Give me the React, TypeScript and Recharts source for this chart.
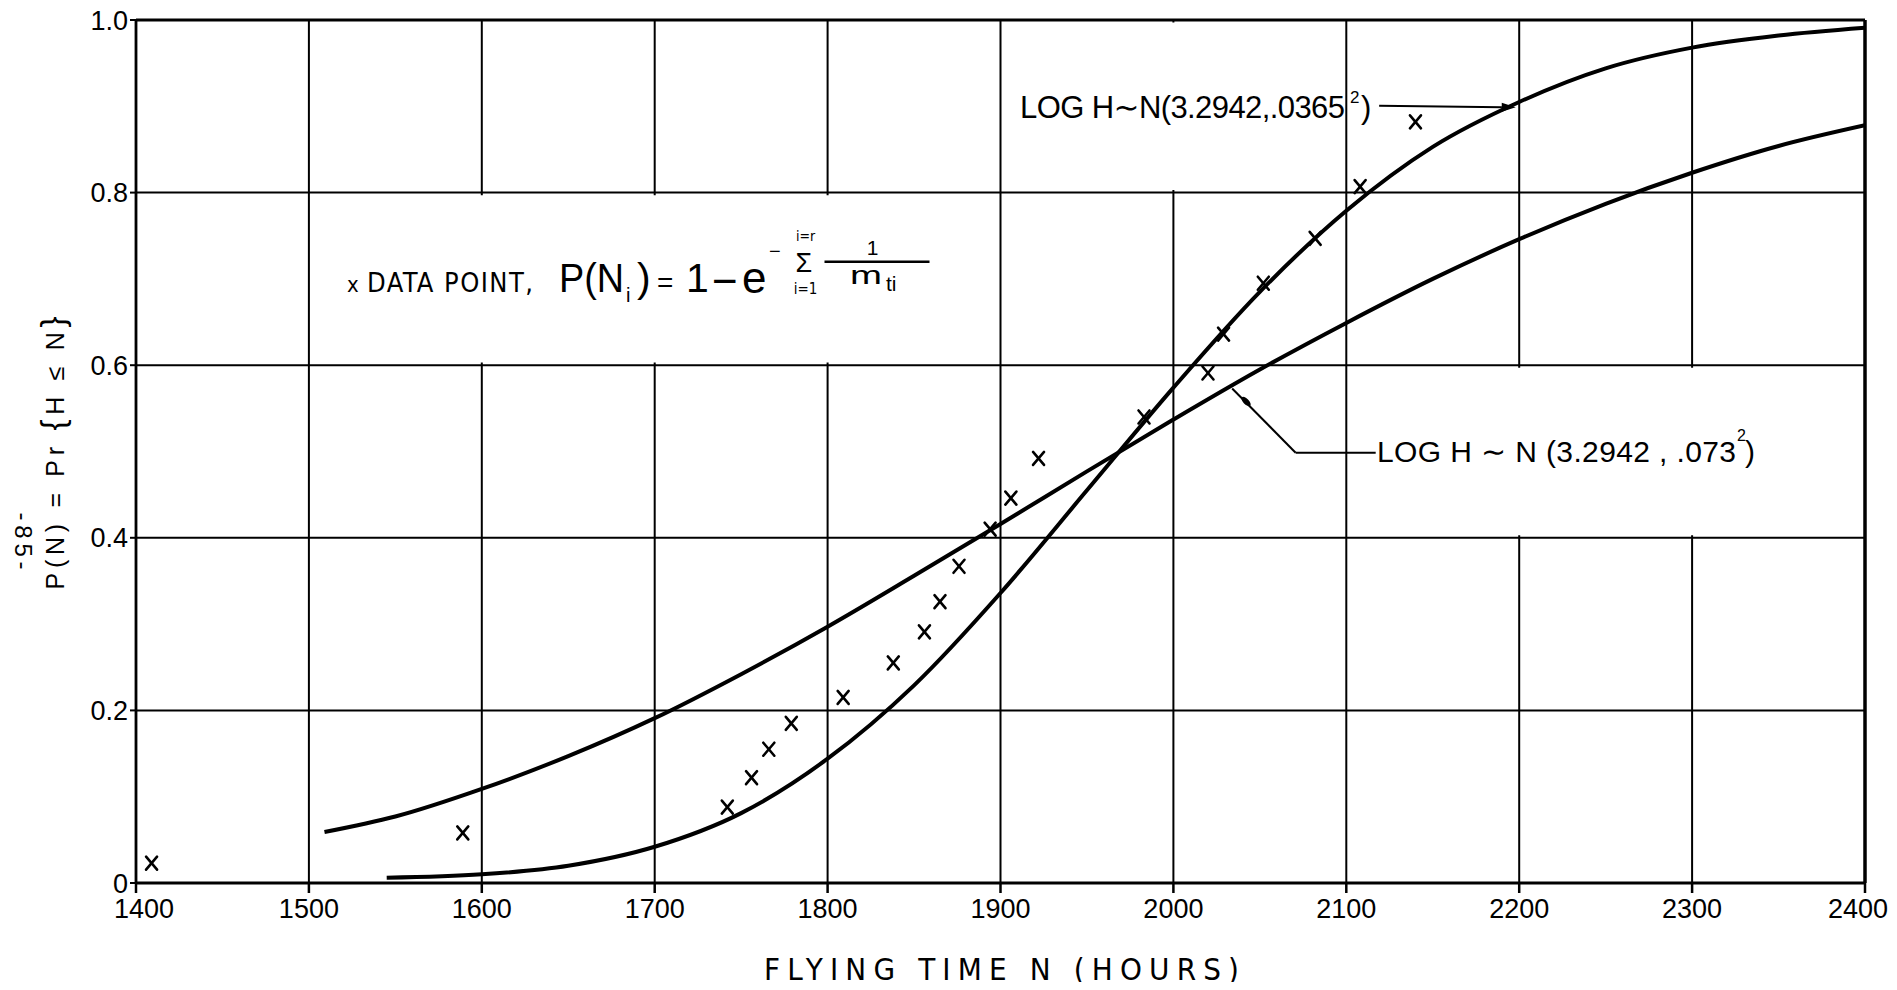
import React from "react";
import {
  ComposedChart,
  Line,
  Scatter,
  XAxis,
  YAxis,
  CartesianGrid,
  ReferenceLine,
  ReferenceArea,
  ReferenceDot,
} from "recharts";

// Axis ticks
const xTicks = [1400, 1500, 1600, 1700, 1800, 1900, 2000, 2100, 2200, 2300, 2400];
const yTicks = [0, 0.2, 0.4, 0.6, 0.8, 1.0];

// LOG H ~ N(3.2942, .0365^2) — the steep curve
const narrowHours = [1545, 1600, 1650, 1700, 1750, 1800, 1850, 1900, 1950, 2000, 2050, 2100, 2150, 2200, 2250, 2300, 2350, 2400];
const narrowProb = [0.006, 0.01, 0.02, 0.042, 0.081, 0.144, 0.229, 0.336, 0.455, 0.574, 0.685, 0.779, 0.853, 0.905, 0.944, 0.968, 0.982, 0.991];

// LOG H ~ N(3.2942, .073^2) — the flatter curve
const wideHours = [1509, 1550, 1600, 1650, 1700, 1750, 1800, 1850, 1900, 1950, 2000, 2050, 2100, 2150, 2200, 2250, 2300, 2350, 2400];
const wideProb = [0.059, 0.077, 0.109, 0.147, 0.191, 0.242, 0.297, 0.356, 0.416, 0.477, 0.537, 0.595, 0.649, 0.7, 0.746, 0.787, 0.823, 0.854, 0.878];

// Observed data points P(N_i)
const pointHours = [1409, 1589, 1742, 1756, 1766, 1779, 1809, 1838, 1856, 1865, 1876, 1894, 1906, 1922, 1983, 2020, 2029, 2052, 2082, 2108, 2140];
const pointProb = [0.023, 0.058, 0.088, 0.122, 0.155, 0.185, 0.215, 0.255, 0.291, 0.326, 0.367, 0.41, 0.446, 0.492, 0.54, 0.591, 0.636, 0.695, 0.747, 0.807, 0.882];

const narrowData = narrowHours.map((n, i) => ({ n, p: narrowProb[i] }));
const wideData = wideHours.map((n, i) => ({ n, p: wideProb[i] }));
const pointData = pointHours.map((n, i) => ({ n, p: pointProb[i] }));

const W = 1897;
const H = 990;

const INK = "#000";
const SANS = "'Liberation Sans', 'DejaVu Sans', sans-serif";
const NARROW = "'DejaVu Sans', 'Liberation Sans', sans-serif";
const narrowStyle = { fontStretch: "condensed" as const };

const Cross = (props: any) => {
  const { cx, cy } = props;
  if (cx == null || cy == null) return null;
  const w = 5.5;
  const h = 6.5;
  return (
    <g stroke={INK} strokeWidth={2.6} strokeLinecap="round">
      <line x1={cx - w} y1={cy - h} x2={cx + w} y2={cy + h} />
      <line x1={cx - w} y1={cy + h} x2={cx + w} y2={cy - h} />
    </g>
  );
};

const ArrowHead = (props: any) => {
  const { cx, cy } = props;
  if (cx == null || cy == null) return null;
  return <path d={`M${cx},${cy} L${cx - 14},${cy - 4.5} L${cx - 14},${cy + 4.5} Z`} fill={INK} />;
};

const Teardrop = (props: any) => {
  const { cx, cy } = props;
  if (cx == null || cy == null) return null;
  return <ellipse cx={cx} cy={cy} rx={6} ry={2.8} fill={INK} transform={`rotate(45 ${cx} ${cy})`} />;
};

const tickStyle = { fontSize: 27, fontFamily: SANS, fill: INK };

// Hour labels: the last one sits inside the frame's right edge
const HourTick = (props: any) => {
  const { x, y, payload } = props;
  const v = payload?.value;
  const last = v === xTicks[xTicks.length - 1];
  const first = v === xTicks[0];
  return (
    <text
      x={last ? x + 23 : first ? x + 8 : x}
      y={y + 1}
      dy="0.71em"
      textAnchor={last ? "end" : "middle"}
      fontSize={tickStyle.fontSize}
      fontFamily={tickStyle.fontFamily}
      fill={INK}
    >
      {v}
    </text>
  );
};

export default function App() {
  return (
    <div
      style={{
        position: "relative",
        width: W,
        height: H,
        marginTop: -8,
        marginBottom: -8,
        marginLeft: -8,
      }}
    >
      <ComposedChart
        width={W}
        height={H}
        margin={{ top: 20, right: 32, left: 76, bottom: 57 }}
      >
        <CartesianGrid stroke={INK} strokeWidth={2} />
        <XAxis
          type="number"
          dataKey="n"
          domain={[1400, 2400]}
          ticks={xTicks}
          allowDataOverflow
          height={50}
          tickSize={10}
          tickMargin={5}
          axisLine={{ stroke: INK, strokeWidth: 3 }}
          tickLine={{ stroke: INK, strokeWidth: 2.5 }}
          tick={<HourTick />}
          interval={0}
        />
        <YAxis
          type="number"
          dataKey="p"
          domain={[0, 1]}
          ticks={yTicks}
          allowDataOverflow
          width={60}
          tickSize={6}
          tickMargin={2}
          axisLine={{ stroke: INK, strokeWidth: 2.8 }}
          tickLine={{ stroke: INK, strokeWidth: 2 }}
          tick={tickStyle}
          interval={0}
          tickFormatter={(v: number) => (v === 0 ? "0" : v.toFixed(1))}
        />

        {/* blank panels behind the lettering */}
        <ReferenceArea x1={1502} x2={1898} y1={0.603} y2={0.797} fill="#fff" fillOpacity={1} stroke="none" />
        <ReferenceArea x1={1902} x2={2098} y1={0.803} y2={0.997} fill="#fff" fillOpacity={1} stroke="none" />
        <ReferenceArea x1={2102} x2={2398} y1={0.403} y2={0.597} fill="#fff" fillOpacity={1} stroke="none" />

        {/* frame */}
        <ReferenceLine y={1} stroke={INK} strokeWidth={3} />
        <ReferenceLine x={2400} stroke={INK} strokeWidth={3.5} />

        {/* leaders to the curve labels */}
        <ReferenceLine segment={[{ x: 2119, y: 0.9005 }, { x: 2190, y: 0.899 }]} stroke={INK} strokeWidth={2} />
        <ReferenceLine segment={[{ x: 2034, y: 0.573 }, { x: 2070.7, y: 0.4986 }]} stroke={INK} strokeWidth={2} />
        <ReferenceLine segment={[{ x: 2070.7, y: 0.4986 }, { x: 2117, y: 0.4986 }]} stroke={INK} strokeWidth={2} />

        <Line
          data={wideData}
          dataKey="p"
          type="monotone"
          stroke={INK}
          strokeWidth={4}
          dot={false}
          activeDot={false}
          isAnimationActive={false}
        />
        <Line
          data={narrowData}
          dataKey="p"
          type="monotone"
          stroke={INK}
          strokeWidth={4}
          dot={false}
          activeDot={false}
          isAnimationActive={false}
        />
        <Scatter data={pointData} dataKey="p" shape={Cross} isAnimationActive={false} />

        <ReferenceDot x={2198} y={0.899} r={4} shape={ArrowHead} />
        <ReferenceDot x={2042} y={0.558} r={4} shape={Teardrop} />
      </ComposedChart>

      <svg
        width={W}
        height={H}
        viewBox={`0 0 ${W} ${H}`}
        style={{ position: "absolute", left: 0, top: 0, pointerEvents: "none" }}
      >
        {/* axis titles */}
        <text x={764} y={980} fontFamily={NARROW} style={narrowStyle} fontSize={31} fill={INK} textLength={475} lengthAdjust="spacing">
          FLYING TIME N (HOURS)
        </text>
        <text
          transform="translate(64 453) rotate(-90)"
          textAnchor="middle"
          fontFamily={SANS}
          fontSize={25}
          fill={INK}
          textLength={273}
          lengthAdjust="spacing"
        >
          P(N) = Pr <tspan fontSize={33}>{"{"}</tspan>H ≤ N<tspan fontSize={33}>{"}"}</tspan>
        </text>
        <text
          transform="translate(15 541) rotate(90)"
          textAnchor="middle"
          fontFamily={SANS}
          fontSize={24}
          fill={INK}
          textLength={57}
          lengthAdjust="spacing"
        >
          -85-
        </text>

        {/* legend formula */}
        <text x={347} y={291.7} fontFamily={NARROW} style={narrowStyle} fontSize={22} fill={INK}>x</text>
        <text x={367} y={291.7} fontFamily={NARROW} style={narrowStyle} fontSize={27} fill={INK} textLength={166} lengthAdjust="spacing">
          DATA  POINT,
        </text>
        <text x={559} y={291.7} fontFamily={SANS} fontSize={41} fill={INK} textLength={65} lengthAdjust="spacingAndGlyphs">
          P(N
        </text>
        <text x={626} y={301.7} fontFamily={SANS} fontSize={20} fill={INK}>i</text>
        <text x={637} y={291.7} fontFamily={SANS} fontSize={41} fill={INK}>)</text>
        <text x={657} y={292} fontFamily={SANS} fontSize={28} fill={INK}>=</text>
        <text x={686} y={291.7} fontFamily={SANS} fontSize={41} fill={INK}>1</text>
        <text x={712} y={296} fontFamily={SANS} fontSize={44} fill={INK}>−</text>
        <text x={742} y={292.5} fontFamily={SANS} fontSize={44} fill={INK}>e</text>
        <text x={769} y={258} fontFamily={SANS} fontSize={20} fill={INK}>−</text>
        <text x={795.5} y={272} fontFamily={SANS} fontSize={27} fill={INK}>Σ</text>
        <text x={805.6} y={241} textAnchor="middle" fontFamily={NARROW} style={narrowStyle} fontSize={14} fill={INK}>i=r</text>
        <text x={805.6} y={294} textAnchor="middle" fontFamily={NARROW} style={narrowStyle} fontSize={15} fill={INK}>i=1</text>
        <line x1={824.5} y1={261.7} x2={929.5} y2={261.7} stroke={INK} strokeWidth={2.5} />
        <text x={872.5} y={255} textAnchor="middle" fontFamily={SANS} fontSize={21} fill={INK}>1</text>
        <text x={850} y={284} fontFamily={SANS} fontSize={26} fill={INK} textLength={32} lengthAdjust="spacingAndGlyphs">m</text>
        <text x={886} y={291} fontFamily={SANS} fontSize={21} fill={INK}>ti</text>

        {/* curve labels */}
        <text x={1020} y={118} fontFamily={SANS} fontSize={31} fill={INK} textLength={325} lengthAdjust="spacing">
          LOG H∼N(3.2942,.0365
        </text>
        <text x={1350} y={103} fontFamily={SANS} fontSize={17} fill={INK}>2</text>
        <text x={1361} y={118} fontFamily={SANS} fontSize={31} fill={INK}>)</text>

        <text x={1377} y={461.7} fontFamily={SANS} fontSize={30} fill={INK} textLength={359} lengthAdjust="spacing">
          LOG H ∼ N (3.2942 , .073
        </text>
        <text x={1737} y={441} fontFamily={SANS} fontSize={16} fill={INK}>2</text>
        <text x={1745} y={461.7} fontFamily={SANS} fontSize={30} fill={INK}>)</text>
      </svg>
    </div>
  );
}
